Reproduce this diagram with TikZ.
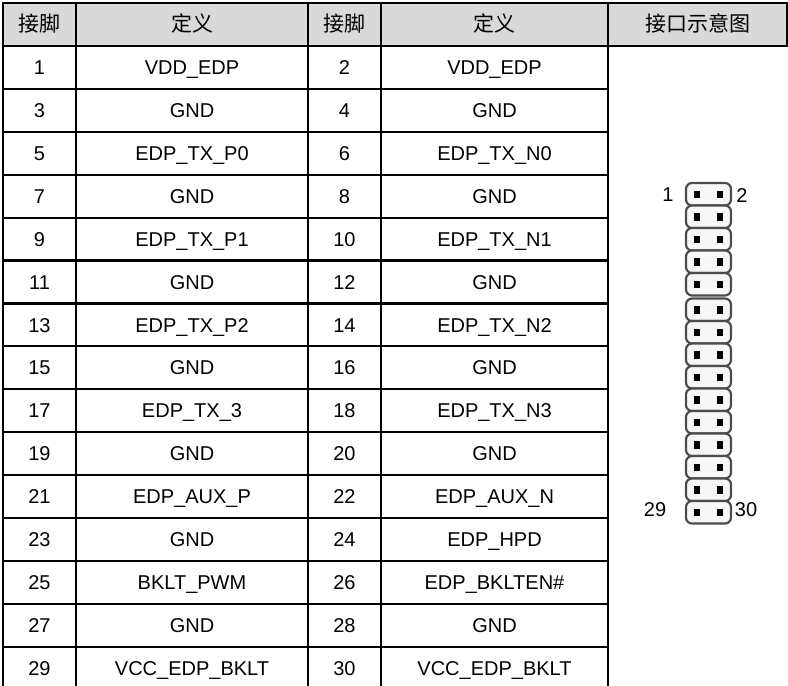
\documentclass[tikz,border=0pt]{standalone}
\usepackage{fontspec}
\setmainfont{Liberation Sans}
\newfontfamily\cjk{Noto Sans CJK SC}
\usepackage{tikz}
\usetikzlibrary{positioning}

\begin{document}
\begin{tikzpicture}[
        x=1pt, y=-1pt,
        celula/.style={inner sep=0pt, text height=14.4pt, text depth=0pt, font=\fontsize{20}{24}\selectfont},
        cabecalho/.style={celula, font=\cjk\fontsize{21}{24}\selectfont},
        grade/.style={line width=2.2pt, line cap=rect},
        fundo/.style={fill=black!15},
        contato/.style={draw=black!70, line width=2.2pt, rounded corners=6pt, fill=black!3},
        pino/.style={fill=black}
    ]
    \useasboundingbox (0,0) rectangle (788,686);

    % --- CABECALHO ---
    \fill[fundo] (3,3) rectangle (787,46);
    \node[cabecalho] (h_pin1) at (39.5,24.5) {接脚};
    \node[cabecalho] (h_def1) at (192,24.5) {定义};
    \node[cabecalho] (h_pin2) at (344.5,24.5) {接脚};
    \node[cabecalho] (h_def2) at (494.5,24.5) {定义};
    \node[cabecalho] (h_fig) at (697.5,24.5) {接口示意图};

    % --- LINHAS DA TABELA ---
    \foreach \a/\da/\b/\db [count=\i] in {
        1/VDD\_EDP/2/VDD\_EDP,
        3/GND/4/GND,
        5/EDP\_TX\_P0/6/EDP\_TX\_N0,
        7/GND/8/GND,
        9/EDP\_TX\_P1/10/EDP\_TX\_N1,
        11/GND/12/GND,
        13/EDP\_TX\_P2/14/EDP\_TX\_N2,
        15/GND/16/GND,
        17/EDP\_TX\_3/18/EDP\_TX\_N3,
        19/GND/20/GND,
        21/EDP\_AUX\_P/22/EDP\_AUX\_N,
        23/GND/24/EDP\_HPD,
        25/BKLT\_PWM/26/EDP\_BKLTEN\#,
        27/GND/28/GND,
        29/VCC\_EDP\_BKLT/30/VCC\_EDP\_BKLT} {
        \pgfmathsetmacro{\yc}{46+42.9*(\i-0.5)}
        \node[celula] (pin_\a) at (39.5,\yc) {\a};
        \node[celula] (def_\a) at (192,\yc) {\da};
        \node[celula] (pin_\b) at (344.5,\yc) {\b};
        \node[celula] (def_\b) at (494.5,\yc) {\db};
    }

    % --- GRADE ---
    \draw[grade] (3,686) -- (3,3) -- (787,3) -- (787,46) -- (3,46);
    \foreach \xl in {76,308,381,608}
        \draw[grade] (\xl,3) -- (\xl,686);
    \foreach \i in {1,...,14}
        \draw[grade] (3,46+42.9*\i) -- (608,46+42.9*\i);

    % --- CONECTOR ---
    \foreach \k in {0,...,14} {
        \pgfmathsetmacro{\yt}{183+22.5*\k+(\k>4)*3}
        \draw[contato] (686,\yt) rectangle (731,\yt+22.5);
        \fill[pino] (693.7,\yt+7.5) rectangle (700.3,\yt+15);
        \fill[pino] (716.7,\yt+7.5) rectangle (723.3,\yt+15);
    }
    \node[celula] (lbl_1) at (668,194) {1};
    \node[celula] (lbl_2) at (742,195) {2};
    \node[celula] (lbl_29) at (655,509) {29};
    \node[celula] (lbl_30) at (746,509) {30};

    \end{tikzpicture}
\end{document}
